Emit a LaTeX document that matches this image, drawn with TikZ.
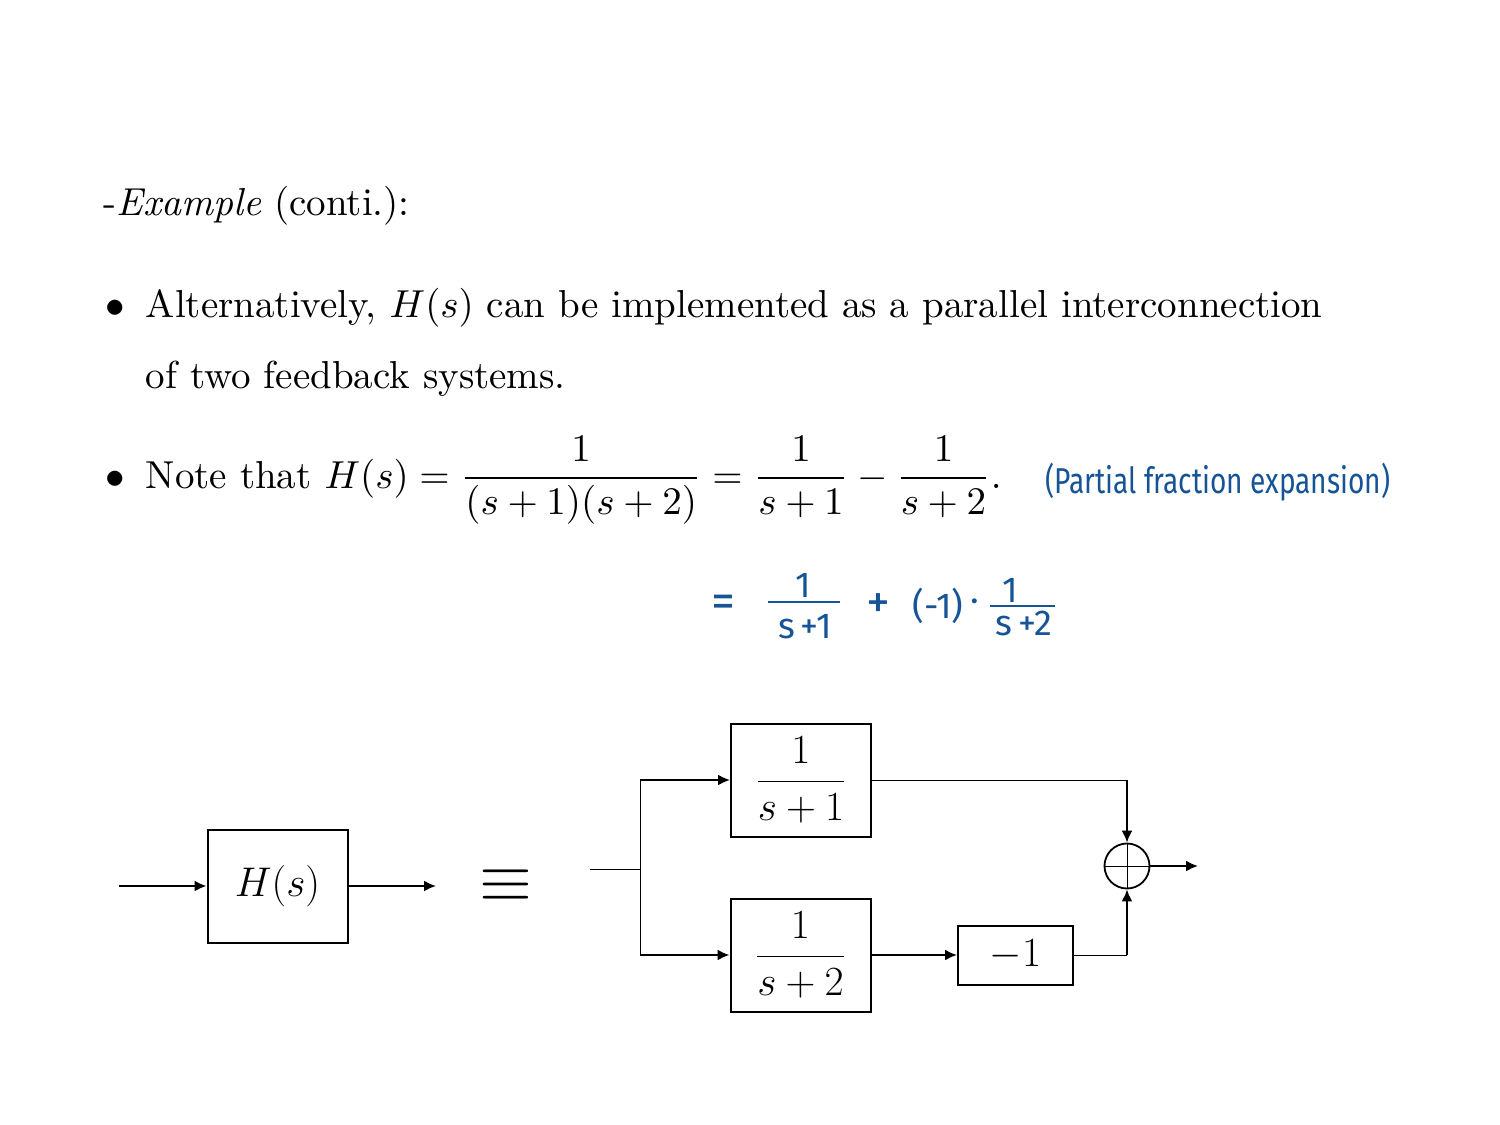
\documentclass[tikz,border=0pt]{standalone}
\usepackage{fontspec}
\usepackage{amsmath}
\usepackage{xcolor}
\usetikzlibrary{arrows.meta, positioning, calc}
\newfontfamily\handfont{Fira Sans}
\definecolor{inkblue}{RGB}{22,84,150}

\begin{document}
\begin{tikzpicture}[
  x=0.5pt, y=-0.5pt,
  txt/.style={anchor=base west, inner sep=0pt, font=\fontsize{10}{12}\selectfont, scale=1.95, transform shape},
  hand/.style={inner sep=0pt, text=inkblue, font=\handfont\fontsize{18}{22}\selectfont},
  handop/.style={hand, font=\handfont\fontsize{24}{28}\selectfont},
  block/.style={
    draw, line width=1pt, inner sep=0pt,
    minimum width=70pt, minimum height=56.5pt,
    font=\fontsize{20.7}{24}\selectfont
  },
  sig/.style={-{Latex[length=6pt, width=5.5pt]}, line width=1pt},
  wire/.style={line width=0.5pt},
]
  \useasboundingbox (0,0) rectangle (1500,1125);

  % Heading and bullets
  \node[txt] (title) at (103,215) {-\emph{Example} (conti.):};
  \node[txt] (dot1) at (105,317) {$\bullet$};
  \node[txt] (alt1) at (145,317) {Alternatively, $H(s)$ can be implemented as a parallel interconnection};
  \node[txt] (alt2) at (145,388) {of two feedback systems.};
  \node[txt] (dot2) at (105,488) {$\bullet$};
  \node[txt] (note) at (145,488) {Note that $\displaystyle H(s)=\frac{1}{(s+1)(s+2)}=\frac{1}{s+1}-\frac{1}{s+2}.$};

  % Handwritten notes
  \node[hand] (pfe) at (1218,482) {\scalebox{0.78}[1]{(Partial fraction expansion)}};
  \node[handop] (heq) at (723,606) {=};
  \node[hand] (hn1) at (803,585) {1};
  \node[hand] (hd1) at (805,627) {s\,+1};
  \draw[inkblue, line width=0.7pt] (768,602) -- (840,602);
  \node[handop] (hplus) at (878,606) {+};
  \node[hand] (hneg) at (938,606) {(-1)};
  \node[hand] (hdot) at (975,606) {·};
  \node[hand] (hn2) at (1010,590) {1};
  \node[hand] (hd2) at (1024,623) {s\,+2};
  \draw[inkblue, line width=0.7pt] (990,606) -- (1055,606);

  % Left system
  \node[block] (hs) at (277.5,886) {$H(s)$};
  \coordinate (hin) at (119,886);
  \coordinate (hout) at (436,886);
  \draw[sig] (hin) -- (hs);
  \draw[sig] (hs) -- (hout);
  \node (eqv) at (506,886) {\scalebox{3.4}{$\equiv$}};

  % Parallel interconnection
  \node[block] (g1) at (801,780) {$\dfrac{1}{s+1}$};
  \node[block] (g2) at (800.5,955) {$\dfrac{1}{s+2}$};
  \node[block, minimum width=57.5pt, minimum height=29.5pt] (gain) at (1015.5,955) {$-1$};
  \node[draw, circle, line width=0.9pt, minimum size=22.5pt, inner sep=0pt] (sum) at (1127,866) {};
  \draw[wire] (sum.north) -- (sum.south) (sum.west) -- (sum.east);

  \coordinate (in) at (590,869);
  \coordinate (split) at (640,869);
  \coordinate (up) at (640,780);
  \coordinate (dn) at (640,955);
  \coordinate (out) at (1198,866);

  \draw[wire] (in) -- (split);
  \draw[wire] (up) -- (dn);
  \draw[sig] (up) -- (g1);
  \draw[sig] (dn) -- (g2);
  \draw[sig] (g2) -- (gain);
  \draw[wire] (g1.east) -- (g1.east -| sum);
  \draw[sig] (g1.east -| sum) -- (sum.north);
  \draw[wire] (gain.east) -- (gain.east -| sum);
  \draw[sig] (gain.east -| sum) -- (sum.south);
  \draw[sig] (sum) -- (out);

\end{tikzpicture}
\end{document}
